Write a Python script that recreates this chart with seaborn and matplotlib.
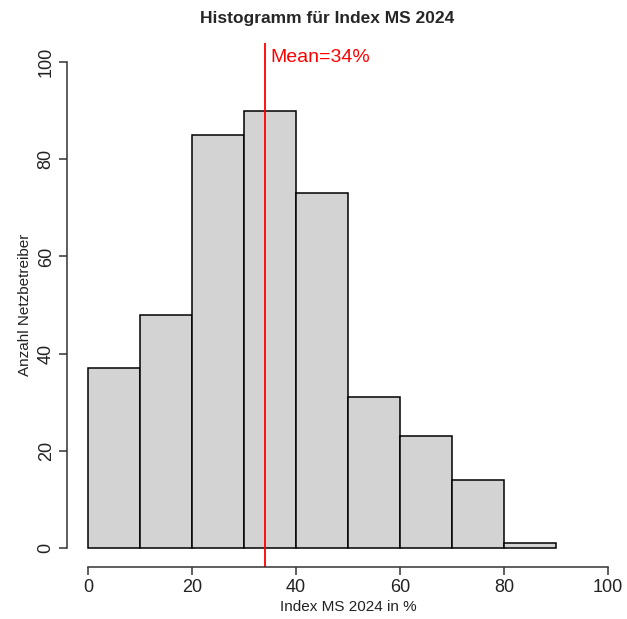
import matplotlib
matplotlib.use("Agg")
import matplotlib.pyplot as plt
import seaborn as sns
import numpy as np

bin_edges = [0, 10, 20, 30, 40, 50, 60, 70, 80, 90]
counts = [37, 48, 85, 90, 73, 31, 23, 14, 1]
mean_value = 34
x_ticks = [0, 20, 40, 60, 80, 100]
y_ticks = [0, 20, 40, 60, 80, 100]

sns.set_style("white")
plt.rcParams['font.family'] = ['Liberation Sans', 'DejaVu Sans']

mids = [(bin_edges[i] + bin_edges[i + 1]) / 2 for i in range(len(counts))]

fig = plt.figure(figsize=(6.27, 6.19), dpi=100)
ax = fig.add_axes([67.2 / 627, 51.6 / 619, 561.6 / 627, 524.8 / 619])

sns.histplot(x=mids, weights=counts, bins=bin_edges, ax=ax,
             color="#D3D3D3", edgecolor="black", linewidth=1.1, alpha=1)

ax.set_xlim(-4, 104)
ax.set_ylim(-4, 104)
ax.axvline(mean_value, color="red", linewidth=1.3)
ax.text(mean_value + 1.0, 101, f"Mean={mean_value}%", color="red",
        fontsize=14, ha="left", va="center")

for s in ["top", "right"]:
    ax.spines[s].set_visible(False)
ax.spines["left"].set_bounds(0, 100)
ax.spines["bottom"].set_bounds(0, 100)
for s in ["left", "bottom"]:
    ax.spines[s].set_color("#333333")
    ax.spines[s].set_linewidth(1.1)

ax.set_xticks(x_ticks)
ax.set_yticks(y_ticks)
ax.tick_params(axis="both", direction="out", length=6, width=1.1,
               bottom=True, left=True,
               colors="#333333", labelcolor="#222222", labelsize=13)
ax.tick_params(axis="y", pad=3)
ax.tick_params(axis="x", pad=2)
for lab in ax.get_yticklabels():
    lab.set_rotation(90)
    lab.set_va("center")

ax.set_xlabel("Index MS 2024 in %", fontsize=11, color="#222222", labelpad=3)
ax.set_ylabel("Anzahl Netzbetreiber", fontsize=11, color="#222222", labelpad=4)

fig.text(327 / 627, 1 - 18 / 619, "Histogramm für Index MS 2024",
         ha="center", va="center", fontsize=12.5, fontweight="bold")

fig.savefig("out.png", dpi=100, facecolor="white")
